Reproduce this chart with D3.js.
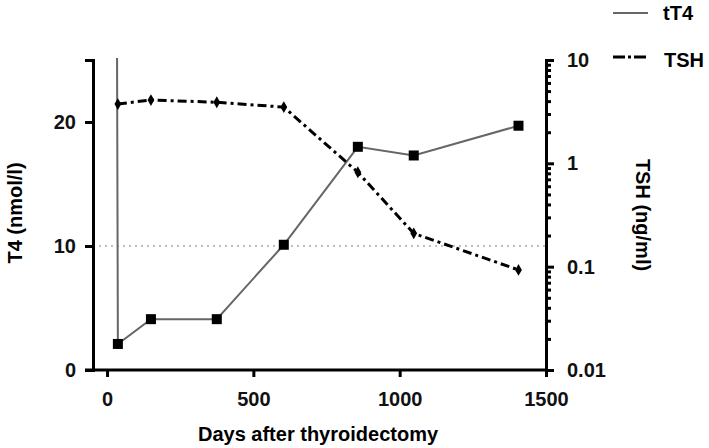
<!DOCTYPE html>
<html><head><meta charset="utf-8">
<script src="https://cdn.jsdelivr.net/npm/d3@7"></script>
<style>body{margin:0;background:#fff}svg{display:block}text{font-family:"Liberation Sans",Arial,sans-serif;font-weight:bold}</style>
</head><body>
<svg id="c" width="709" height="448"></svg>
<script>
const days = [30, 37, 150, 375, 604, 857, 1048, 1406];
const t4 = [60, 2.1, 4.1, 4.1, 10.1, 18.0, 17.3, 19.7];
const tshDays = [37, 150, 375, 604, 857, 1048, 1406];
const tsh = [3.75, 4.1, 3.9, 3.5, 0.82, 0.21, 0.093];
const xTicks = [0, 500, 1000, 1500];
const yTicks = [0, 10, 20];
const tshTicks = [0.01, 0.1, 1, 10];
const refT4 = 10;

const svg = d3.select("#c");
const L = 93, R = 546, T = 60, B = 370;
const x = d3.scaleLinear().domain([-48, 1500]).range([L, R]);
const y = d3.scaleLinear().domain([0, 25]).range([B, T]);
const y2 = d3.scaleLog().domain([0.01, 10]).range([B, T]);

svg.append("defs").append("clipPath").attr("id","clip").append("rect")
  .attr("x", L).attr("y", T-2).attr("width", R-L).attr("height", B-T+2);

// reference dotted line
svg.append("line").attr("x1", L).attr("x2", R).attr("y1", y(refT4)).attr("y2", y(refT4))
  .attr("stroke","#aaa").attr("stroke-width",1.5).attr("stroke-dasharray","2,4");

// axes
const fs = 20;
const ax = svg.append("g").attr("transform",`translate(0,${B})`)
  .call(d3.axisBottom(x).tickValues(xTicks).tickSize(7).tickPadding(15).tickFormat(d3.format("d")));
const ay = svg.append("g").attr("transform",`translate(${L},0)`)
  .call(d3.axisLeft(y).tickValues(yTicks).tickSize(8).tickPadding(9));
const minor = [];
for (let e=-2;e<1;e++) for (let k=1;k<=9;k++) minor.push(k*Math.pow(10,e));
minor.push(10);
const ay2min = svg.append("g").attr("transform",`translate(${R},0)`)
  .call(d3.axisRight(y2).tickValues(minor.filter(v=>!tshTicks.includes(+v.toPrecision(3)))).tickSize(5).tickFormat(""));
const ay2 = svg.append("g").attr("transform",`translate(${R},0)`)
  .call(d3.axisRight(y2).tickValues(tshTicks).tickSize(8).tickPadding(13).tickFormat(d=>String(d)));
[ax,ay,ay2,ay2min].forEach(g=>{
  g.select(".domain").attr("stroke","#000").attr("stroke-width",3);
  g.selectAll(".tick line").attr("stroke","#000").attr("stroke-width",3);
  g.selectAll("text").attr("font-size",fs).attr("fill","#111");
});
ay2min.select(".domain").remove();
ax.select(".domain").attr("d",`M${L-8},0H${R}`);

// T4 line
const g = svg.append("g").attr("clip-path","url(#clip)");
const pts = days.map((d,i)=>[d,t4[i]]);
g.append("path").attr("d", d3.line().x(d=>x(d[0])).y(d=>y(d[1]))(pts))
  .attr("fill","none").attr("stroke","#666").attr("stroke-width",2);
// TSH line
const tpts = tshDays.map((d,i)=>[d,tsh[i]]);
g.append("path").attr("d", d3.line().x(d=>x(d[0])).y(d=>y2(d[1]))(tpts))
  .attr("fill","none").attr("stroke","#000").attr("stroke-width",3).attr("stroke-dasharray","9,4,3,4");
// markers
svg.selectAll(".sq").data(pts.filter(p=>p[1]<=25)).enter().append("rect")
  .attr("x",d=>x(d[0])-5).attr("y",d=>y(d[1])-5).attr("width",10).attr("height",10).attr("fill","#000");
svg.selectAll(".dm").data(tpts).enter().append("path")
  .attr("d", d3.symbol().type(d3.symbolDiamond).size(40)())
  .attr("transform",d=>`translate(${x(d[0])},${y2(d[1])})`).attr("fill","#000");

// labels
svg.append("text").attr("x",318).attr("y",441).attr("text-anchor","middle").attr("font-size",20).text("Days after thyroidectomy");
svg.append("text").attr("transform",`translate(22,213) rotate(-90)`).attr("text-anchor","middle").attr("font-size",20).text("T4 (nmol/l)");
svg.append("text").attr("transform",`translate(636,215) rotate(90)`).attr("text-anchor","middle").attr("font-size",20).text("TSH (ng/ml)");

// legend
svg.append("line").attr("x1",613).attr("x2",648).attr("y1",13).attr("y2",13).attr("stroke","#666").attr("stroke-width",2);
svg.append("text").attr("x",663).attr("y",20).attr("font-size",20).text("tT4");
svg.append("line").attr("x1",613).attr("x2",648).attr("y1",57).attr("y2",57).attr("stroke","#000").attr("stroke-width",3).attr("stroke-dasharray","12,3,3,3");
svg.append("text").attr("x",664).attr("y",67).attr("font-size",20).text("TSH");
</script>
</body></html>
